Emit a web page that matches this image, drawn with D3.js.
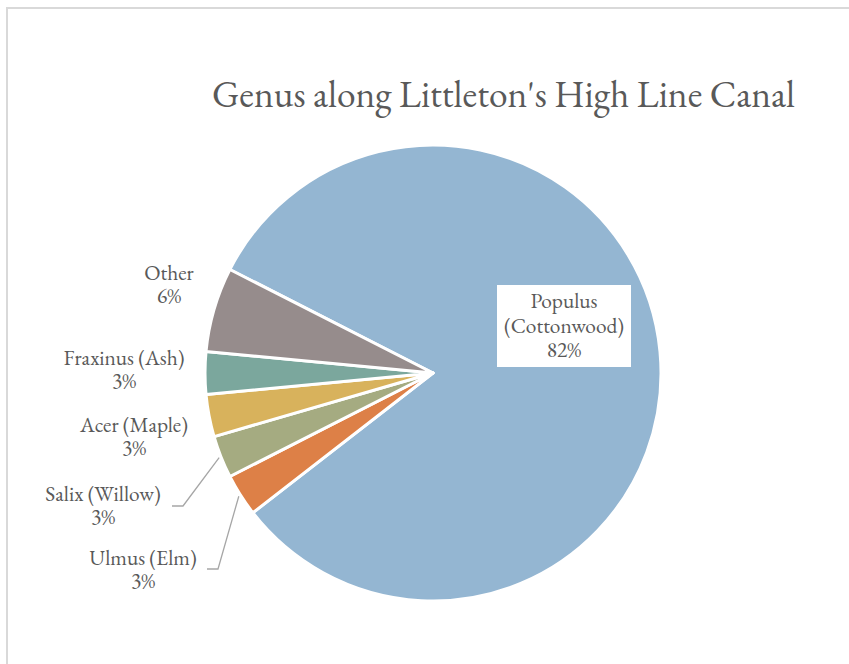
<!DOCTYPE html>
<html>
<head>
<meta charset="utf-8">
<script src="https://cdn.jsdelivr.net/npm/d3@7"></script>
<style>
  html, body { margin: 0; padding: 0; background: #fff; }
  svg { display: block; }
</style>
</head>
<body>
<svg id="chart" width="849" height="664"></svg>
<script>
// Tree genus shares along the canal
const genera = ["Populus\n(Cottonwood)", "Ulmus (Elm)", "Salix (Willow)", "Acer (Maple)", "Fraxinus (Ash)", "Other"];
const shares = [82, 3, 3, 3, 3, 6];
const colors = ["#94B6D2", "#DD8047", "#A5AB81", "#D8B25C", "#7BA79D", "#968C8C"];
const title = "Genus along Littleton's High Line Canal";

const W = 849, H = 664;
const cx = 433, cy = 373, R = 228;
const FONT = '"EB Garamond", "Liberation Serif", serif';
const textColor = "#595959";

const svg = d3.select("#chart");

// scale a text's font size so that it spans the wanted width
function fitSize(str, width, guess) {
  const probe = svg.append("text").style("font-family", FONT).style("font-size", guess + "px").text(str);
  const w = probe.node().getComputedTextLength();
  probe.remove();
  return w > 0 ? guess * width / w : guess;
}

// chart frame
svg.append("path")
  .attr("d", `M7,${H} L7,8 L${W},8`)
  .attr("fill", "none")
  .attr("stroke", "#d9d9d9")
  .attr("stroke-width", 2);

const titleSize = fitSize(title, 583, 34);
svg.append("text")
  .attr("x", 503.5).attr("y", 107)
  .attr("text-anchor", "middle")
  .style("font-family", FONT)
  .style("font-size", titleSize + "px")
  .attr("fill", textColor)
  .text(title);

const total = d3.sum(shares);
const data = genera.map((g, i) => ({ name: g, value: shares[i], color: colors[i] }));

const pie = d3.pie()
  .value(d => d.value)
  .sort(null)
  .startAngle(-63 * Math.PI / 180)
  .endAngle((360 - 63) * Math.PI / 180);

const arc = d3.arc().innerRadius(0).outerRadius(R);
const arcs = pie(data);

const g = svg.append("g").attr("transform", `translate(${cx},${cy})`);
g.selectAll("path.slice")
  .data(arcs)
  .join("path")
  .attr("class", "slice")
  .attr("d", arc)
  .attr("fill", d => d.data.color)
  .attr("stroke", "#fff")
  .attr("stroke-width", 3)
  .attr("stroke-linejoin", "round");

const pct = v => Math.round(v / total * 100) + "%";

// label placement for each slice (text centre x, first baseline y)
const labelPos = [
  { x: 564, y: 308, box: true },
  { x: 143, y: 565 },
  { x: 103, y: 501 },
  { x: 134, y: 432 },
  { x: 124, y: 365 },
  { x: 169, y: 280 }
];

const labelSize = fitSize("Fraxinus (Ash)", 121, 19);
const lineH = 23;
arcs.forEach((a, i) => {
  const p = labelPos[i];
  const lines = a.data.name.split("\n").concat([pct(a.data.value)]);
  if (p.box) {
    svg.append("rect")
      .attr("x", 497).attr("y", 285)
      .attr("width", 134).attr("height", 82)
      .attr("fill", "#fff");
  }
  const t = svg.append("text")
    .attr("text-anchor", "middle")
    .style("font-family", FONT)
    .style("font-size", labelSize + "px")
    .attr("fill", textColor);
  lines.forEach((ln, k) => {
    t.append("tspan").attr("x", p.x).attr("y", p.y + k * (p.box ? 24.5 : lineH)).text(ln);
  });
});

// leader lines for the two small slices whose labels sit away from them
const leaderLine = d3.line();
const leaders = [
  { slice: 1, pts: [[207, 569], [218, 569]] },
  { slice: 2, pts: [[172, 506], [183, 506]] }
];
leaders.forEach(l => {
  const a = arcs[l.slice];
  const mid = (a.startAngle + a.endAngle) / 2;
  const r = R + 2;
  const end = [cx + r * Math.sin(mid), cy - r * Math.cos(mid)];
  svg.append("path")
    .attr("d", leaderLine(l.pts.concat([end])))
    .attr("fill", "none")
    .attr("stroke", "#a6a6a6")
    .attr("stroke-width", 1.3);
});
</script>
</body>
</html>
